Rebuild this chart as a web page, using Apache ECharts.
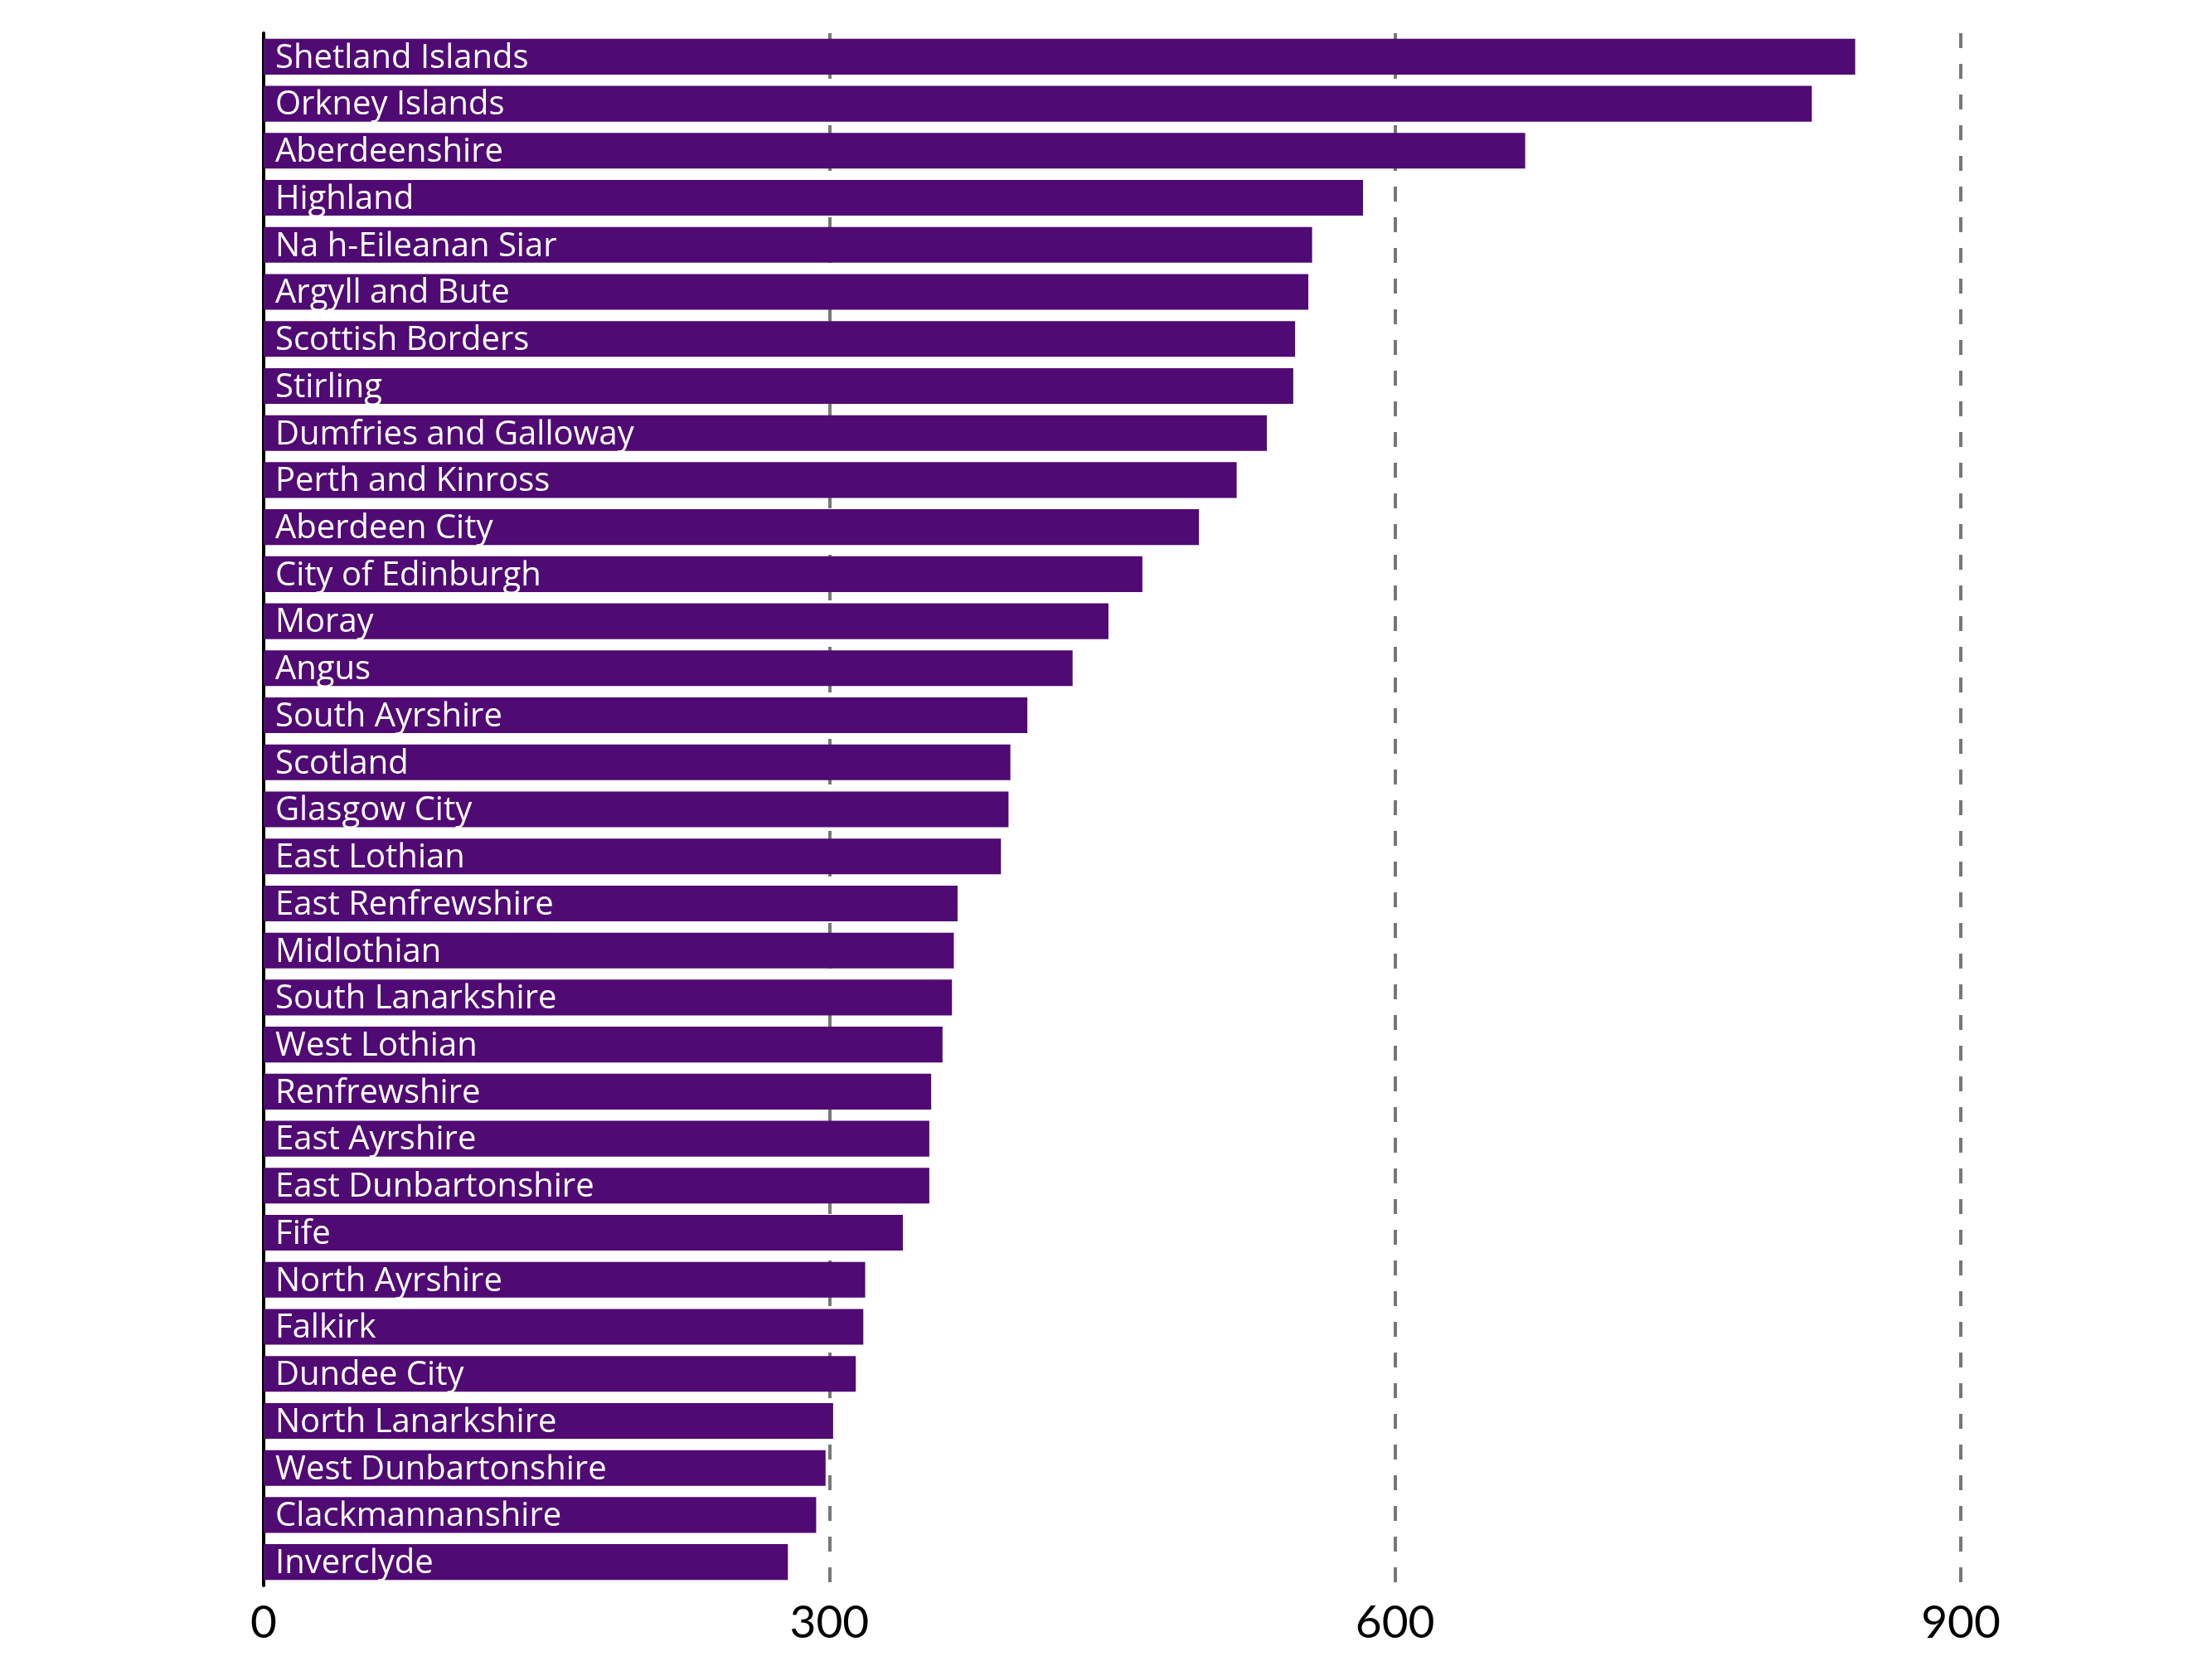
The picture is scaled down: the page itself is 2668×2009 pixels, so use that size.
<!DOCTYPE html>
<html lang="en">
<head>
  <meta charset="UTF-8">
  <title>Scottish council areas</title>
  <script src="https://cdn.jsdelivr.net/npm/echarts@6/dist/echarts.min.js"></script>
  <style>
    html, body { margin: 0; padding: 0; background: #fff; }
    .chart-wrap { width: 2668px; height: 2009px; }
  </style>
</head>
<body>
  <div class="chart-wrap" id="chart"></div>
</body>
<script>
  const categories = [
    'Shetland Islands', 'Orkney Islands', 'Aberdeenshire', 'Highland',
    'Na h-Eileanan Siar', 'Argyll and Bute', 'Scottish Borders', 'Stirling',
    'Dumfries and Galloway', 'Perth and Kinross', 'Aberdeen City', 'City of Edinburgh',
    'Moray', 'Angus', 'South Ayrshire', 'Scotland', 'Glasgow City', 'East Lothian',
    'East Renfrewshire', 'Midlothian', 'South Lanarkshire', 'West Lothian',
    'Renfrewshire', 'East Ayrshire', 'East Dunbartonshire', 'Fife', 'North Ayrshire',
    'Falkirk', 'Dundee City', 'North Lanarkshire', 'West Dunbartonshire',
    'Clackmannanshire', 'Inverclyde'
  ];
  const values = [
    844, 821, 669, 583, 556, 554, 547, 546, 532, 516, 496, 466, 448, 429, 405, 396,
    395, 391, 368, 366, 365, 360, 354, 353, 353, 339, 319, 318, 314, 302, 298, 293, 278
  ];
  const xTicks = [0, 300, 600, 900];

  const chart = echarts.init(document.getElementById('chart'));
  chart.setOption({
    animation: false,
    grid: {
      left: 318,
      right: 303,
      top: 40,
      bottom: 97
    },
    xAxis: {
      type: 'value',
      min: xTicks[0],
      max: xTicks[xTicks.length - 1],
      interval: 300,
      axisLine: { show: false },
      axisTick: { show: false },
      axisLabel: {
        color: '#000',
        fontSize: 55,
        fontFamily: 'Lato',
        margin: 18
      },
      splitLine: {
        show: true,
        lineStyle: {
          color: '#777',
          width: 4,
          type: [18, 19]
        }
      }
    },
    yAxis: {
      type: 'category',
      inverse: true,
      data: categories,
      axisLine: {
        show: true,
        lineStyle: { color: '#000', width: 4 }
      },
      axisTick: { show: false },
      axisLabel: { show: false },
      splitLine: { show: false }
    },
    series: [
      {
        type: 'bar',
        data: values,
        barCategoryGap: '24%',
        itemStyle: { color: '#500a73' },
        label: {
          show: true,
          position: 'insideLeft',
          distance: 14,
          offset: [0, 2],
          formatter: '{b}',
          color: '#fff',
          fontSize: 40,
          fontFamily: 'Open Sans'
        }
      }
    ]
  });
</script>
</html>
